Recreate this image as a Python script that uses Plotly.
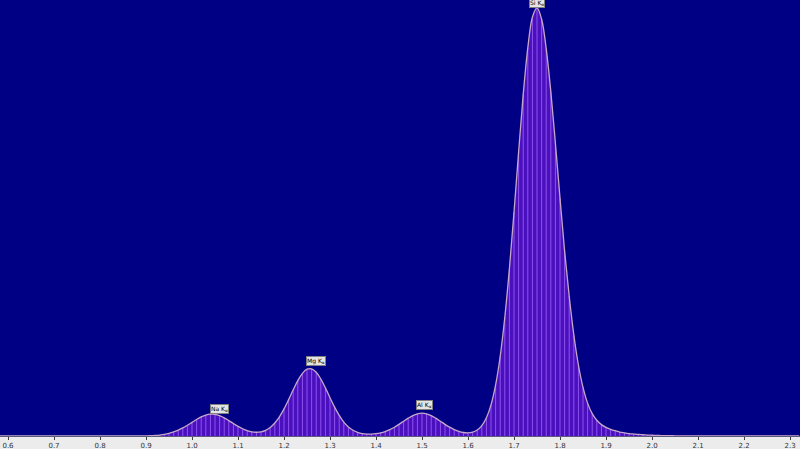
import plotly.graph_objects as go

# Channel energies (keV), 0.01 keV channels
energy = [round(0.58 + 0.01 * i, 2) for i in range(175)]

# Counts (arbitrary units), 0.88 .. 2.06 keV
counts_core = [
    0.0, 0.0, 0.03, 0.06, 0.12, 0.22, 0.37, 0.60, 0.92, 1.34,      # 0.88-0.97
    1.84, 2.44, 3.11, 3.78, 4.36, 4.79, 4.99, 4.94, 4.64, 4.14,    # 0.98-1.07
    3.52, 2.84, 2.20, 1.66, 1.23, 0.96, 0.86, 0.96, 1.30, 1.94,    # 1.08-1.17
    2.96, 4.36, 6.18, 8.30, 10.54, 12.63, 14.29, 15.24, 15.33, 14.54,  # 1.18-1.27
    13.01, 10.98, 8.74, 6.59, 4.70, 3.18, 2.06, 1.30, 0.83, 0.56,  # 1.28-1.37
    0.44, 0.43, 0.52, 0.70, 1.01, 1.45, 2.00, 2.66, 3.38, 4.07,    # 1.38-1.47
    4.66, 5.06, 5.20, 5.06, 4.66, 4.07, 3.38, 2.66, 2.01, 1.47,    # 1.48-1.57
    1.05, 0.80, 0.73, 0.88, 1.36, 2.36, 4.15, 7.09, 11.65, 18.2,   # 1.58-1.67
    27.1, 38.2, 51.1, 64.8, 77.9, 88.6, 95.6, 97.7, 95.1, 88.4,    # 1.68-1.77
    78.6, 66.8, 54.3, 42.2, 31.9, 23.1, 16.2, 11.1, 7.5, 5.1,      # 1.78-1.87
    3.6, 2.6, 1.96, 1.5, 1.2, 0.9, 0.72, 0.56, 0.45, 0.35,         # 1.88-1.97
    0.28, 0.22, 0.17, 0.13, 0.10, 0.08, 0.06, 0.05, 0.04,          # 1.98-2.06
]
counts = [0.0] * 30 + counts_core
counts = counts + [0.04] * (len(energy) - len(counts))

# Peak labels
label_text = ["Na K<sub>α</sub>", "Mg K<sub>α</sub>", "Al K<sub>α</sub>", "Si K<sub>α</sub>"]
label_energy = [1.06, 1.27, 1.505, 1.75]
label_height = [5.1, 15.9, 6.0, 97.6]

tick_vals = [round(0.6 + 0.1 * i, 1) for i in range(18)]

fig = go.Figure()

# Filled spectrum area
fig.add_trace(go.Scatter(
    x=energy, y=counts, mode="lines", line=dict(shape="spline", width=0, color="#4A10BE"),
    fill="tozeroy", fillcolor="#4A10BE", hoverinfo="skip", showlegend=False,
))

# Channel stripes
sx, sy = [], []
for e, c in zip(energy, counts):
    if c > 0.05:
        sx += [e, e, None]
        sy += [0, c, None]
fig.add_trace(go.Scatter(
    x=sx, y=sy, mode="lines", line=dict(color="#8E52EE", width=1),
    hoverinfo="skip", showlegend=False,
))

# Outline curve
fig.add_trace(go.Scatter(
    x=energy, y=counts, mode="lines", line=dict(shape="spline", width=1.3, color="#C8A8C8"),
    showlegend=False,
))

for t, e, h in zip(label_text, label_energy, label_height):
    fig.add_annotation(
        x=e, y=h, text=t, showarrow=False, xanchor="center", yanchor="bottom",
        font=dict(family="DejaVu Sans", size=6, color="#000000"),
        bgcolor="#E4E4E4", bordercolor="#808080", borderwidth=1, borderpad=0,
    )

fig.update_layout(
    width=800, height=449,
    margin=dict(l=0, r=0, t=0, b=13),
    paper_bgcolor="#ECECEC",
    plot_bgcolor="#000084",
    xaxis=dict(
        range=[0.5826, 2.3217], tickvals=tick_vals, tickformat=".1f",
        showgrid=False, zeroline=False, showline=True, linecolor="#5A5A7A", linewidth=1,
        ticks="outside", ticklen=3, tickcolor="#404040",
        tickfont=dict(family="DejaVu Sans", size=7, color="#333333"),
        fixedrange=True,
    ),
    yaxis=dict(
        range=[0, 99.5], visible=False, showgrid=False, zeroline=False, fixedrange=True,
    ),
)

fig.write_html(
    "out.html",
    config={"displayModeBar": False},
    post_script="document.body.style.margin='0';document.body.style.overflow='hidden';",
)
